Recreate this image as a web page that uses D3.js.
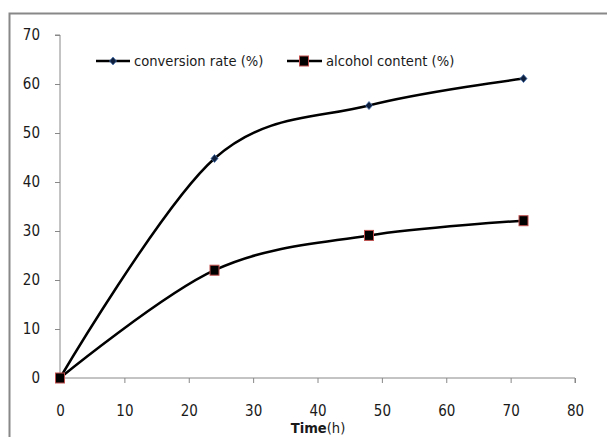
<!DOCTYPE html>
<html>
<head>
<meta charset="utf-8">
<style>
  body { margin: 0; background: #fff; }
  svg text { font-family: "DejaVu Sans Condensed", "Liberation Sans Narrow", sans-serif; font-size: 14.6px; fill: #1a1a1a; }
  .axis path, .axis line { stroke: #888; }
</style>
</head>
<body>
<svg id="chart" width="607" height="437"></svg>
<script src="https://d3js.org/d3.v7.min.js"></script>
<script>
  var hours = [0, 24, 48, 72];
  var conversion = [0, 44.8, 55.6, 61.1];
  var alcohol = [0, 22, 29.1, 32.1];
  var xTicks = [0, 10, 20, 30, 40, 50, 60, 70, 80];
  var yTicks = [0, 10, 20, 30, 40, 50, 60, 70];
  var seriesNames = ["conversion rate (%)", "alcohol content (%)"];

  var svg = d3.select("#chart");

  // outer frame (only top and left edges show in the picture)
  svg.append("path")
    .attr("d", "M9.5,437 V13.5 H607")
    .attr("fill", "none").attr("stroke", "#888").attr("stroke-width", 2);

  var x = d3.scaleLinear().domain([0, 80]).range([60, 575]);
  var y = d3.scaleLinear().domain([0, 70]).range([378, 35]);

  var gx = svg.append("g").attr("class", "axis")
    .attr("transform", "translate(0,378)")
    .call(d3.axisBottom(x).tickValues(xTicks).tickSize(5).tickPadding(22));
  var gy = svg.append("g").attr("class", "axis")
    .attr("transform", "translate(60,0)")
    .call(d3.axisLeft(y).tickValues(yTicks).tickSize(5).tickPadding(15));
  svg.selectAll(".axis text").attr("font-size", 15).attr("font-family", null).style("font-size", "15px");
  gx.select(".domain").attr("d", "M60,5V0H575V5");
  gy.select(".domain").attr("d", "M-5,35H0V378H-5");

  var title = svg.append("text").attr("x", 318).attr("y", 433).attr("text-anchor", "middle");
  title.append("tspan").attr("font-weight", "bold").text("Time");
  title.append("tspan").text("(h)");

  var line = d3.line()
    .x(function(d, i) { return x(hours[i]); })
    .y(function(d) { return y(d); })
    .curve(d3.curveCardinal.tension(0));

  svg.append("path").datum(conversion).attr("d", line)
    .attr("fill", "none").attr("stroke", "#000").attr("stroke-width", 2.5);
  svg.append("path").datum(alcohol).attr("d", line)
    .attr("fill", "none").attr("stroke", "#000").attr("stroke-width", 2.5);

  function diamond(g, cx, cy) {
    g.append("path")
      .attr("d", "M" + cx + "," + (cy - 4) + "L" + (cx + 3.5) + "," + cy + "L" + cx + "," + (cy + 4) + "L" + (cx - 3.5) + "," + cy + "Z")
      .attr("fill", "#0d1f3c").attr("stroke", "#4a74b0").attr("stroke-width", 0.8);
  }
  function square(g, cx, cy) {
    g.append("rect")
      .attr("x", cx - 4.5).attr("y", cy - 5).attr("width", 9).attr("height", 10)
      .attr("fill", "#000").attr("stroke", "#c0504d").attr("stroke-width", 1);
  }

  var marks = svg.append("g");
  conversion.forEach(function(d, i) { diamond(marks, x(hours[i]), y(d)); });
  alcohol.forEach(function(d, i) { square(marks, x(hours[i]), y(d)); });

  // legend
  var lg = svg.append("g");
  lg.append("line").attr("x1", 96).attr("x2", 130).attr("y1", 61).attr("y2", 61)
    .attr("stroke", "#000").attr("stroke-width", 2.5);
  diamond(lg, 113, 61);
  lg.append("text").attr("x", 134).attr("y", 66).text(seriesNames[0]);
  lg.append("line").attr("x1", 287).attr("x2", 322).attr("y1", 61).attr("y2", 61)
    .attr("stroke", "#000").attr("stroke-width", 2.5);
  square(lg, 304, 61);
  lg.append("text").attr("x", 326).attr("y", 66).text(seriesNames[1]);
</script>
</body>
</html>
